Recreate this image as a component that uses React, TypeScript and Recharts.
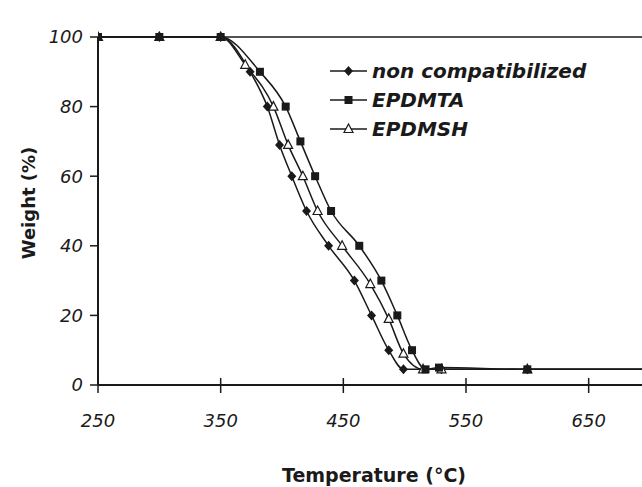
import { LineChart, Line, XAxis, YAxis, ReferenceLine, Legend, Label } from "recharts";

// TGA curves
const ncTemp   = [250, 300, 350, 374, 388, 398, 408, 420, 438, 459, 473, 487, 499, 530, 600, 700];
const ncWeight = [100, 100, 100, 90, 80, 69, 60, 50, 40, 30, 20, 10, 4.5, 4.5, 4.5, 4.5];

const taTemp   = [250, 300, 350, 382, 403, 415, 427, 440, 463, 481, 494, 506, 517, 528, 600, 700];
const taWeight = [100, 100, 100, 90, 80, 70, 60, 50, 40, 30, 20, 10, 4.5, 5, 4.5, 4.5];

const shTemp   = [250, 300, 350, 370, 393, 405, 417, 429, 449, 472, 487, 499, 515, 530, 600, 700];
const shWeight = [100, 100, 100, 92, 80, 69, 60, 50, 40, 29, 19, 9, 4.5, 4.5, 4.5, 4.5];

const xTicks = [250, 350, 450, 550, 650];
const yTicks = [0, 20, 40, 60, 80, 100];

const seriesNames = ["non compatibilized", "EPDMTA", "EPDMSH"];

const toRows = (t: number[], w: number[]) => t.map((temp, i) => ({ temp, weight: w[i] }));

const INK = "#1a1a1a";
const FONT = "'DejaVu Sans', sans-serif";

type Shape = "diamond" | "square" | "triangle";

function Marker({ cx, cy, shape }: { cx: number; cy: number; shape: Shape }) {
  if (shape === "diamond")
    return <polygon points={`${cx},${cy - 5} ${cx + 4.5},${cy} ${cx},${cy + 5} ${cx - 4.5},${cy}`} fill={INK} />;
  if (shape === "square")
    return <rect x={cx - 4} y={cy - 4} width={8} height={8} fill={INK} />;
  return (
    <polygon points={`${cx},${cy - 5} ${cx + 4.5},${cy + 3.5} ${cx - 4.5},${cy + 3.5}`}
      fill="#fff" stroke={INK} strokeWidth={1.2} />
  );
}

const dotFor = (shape: Shape) => (p: any) =>
  <Marker key={`${shape}-${p.index}`} cx={p.cx} cy={p.cy} shape={shape} />;

function XTick({ x, y, payload }: any) {
  const axisY = y - 8;
  return (
    <g>
      <line x1={x} x2={x} y1={axisY - 7} y2={axisY + 8} stroke={INK} strokeWidth={1.5} />
      <text x={x} y={axisY + 42} textAnchor="middle" fontFamily={FONT} fontStyle="italic"
        fontSize={18} fill={INK}>{payload.value}</text>
    </g>
  );
}

const legendShapes: Shape[] = ["diamond", "square", "triangle"];

function LegendBox() {
  return (
    <div style={{ fontFamily: FONT }}>
      {seriesNames.map((name, i) => (
        <div key={name} style={{ display: "flex", alignItems: "center", height: 29 }}>
          <svg width={42} height={20}>
            <line x1={0} x2={37} y1={10} y2={10} stroke={INK} strokeWidth={1.5} />
            <Marker cx={18.5} cy={10} shape={legendShapes[i]} />
          </svg>
          <span style={{ fontSize: 20, fontWeight: "bold", fontStyle: "italic", color: INK }}>{name}</span>
        </div>
      ))}
    </div>
  );
}

export default function App() {
  return (
    <div style={{ position: "absolute", left: 0, top: 0, width: 642, height: 487, overflow: "hidden", background: "#fff" }}>
      <LineChart width={652} height={487} margin={{ top: 37, right: 2, bottom: 42, left: 0 }}>
        <XAxis type="number" dataKey="temp" domain={[250, 700]} ticks={xTicks} allowDataOverflow
          height={60} tickSize={8} tickMargin={0} tickLine={false} tick={<XTick />}
          axisLine={{ stroke: INK, strokeWidth: 2 }}
          label={<Label content={(p: any) => {
            const vb = p.viewBox || { x: 98, y: 385, width: 552, height: 60 };
            return (
              <text x={vb.x + vb.width / 2} y={482} textAnchor="middle" fontFamily={FONT}
                fontWeight="bold" fontSize={19} fill={INK}>Temperature (°C)</text>
            );
          }} />} />
        <YAxis type="number" domain={[0, 100]} ticks={yTicks} width={98} tickSize={8} tickMargin={7}
          axisLine={{ stroke: INK, strokeWidth: 2 }} tickLine={{ stroke: INK, strokeWidth: 1.5 }}
          tick={{ fontFamily: FONT, fontStyle: "italic", fontSize: 18, fill: INK }}
          label={<Label content={(p: any) => {
            const vb = p.viewBox || { x: 0, y: 37, width: 98, height: 348 };
            const cy = vb.y + vb.height / 2 - 8;
            return (
              <text x={28} y={cy} transform={`rotate(-90 28 ${cy})`} textAnchor="middle" dominantBaseline="central"
                fontFamily={FONT} fontWeight="bold" fontSize={18} fill={INK}>Weight (%)</text>
            );
          }} />} />
        <ReferenceLine y={100} stroke={INK} strokeWidth={1.5} />
        <Line data={toRows(ncTemp, ncWeight)} dataKey="weight" name={seriesNames[0]} type="monotone"
          stroke={INK} strokeWidth={1.5} dot={dotFor("diamond")} isAnimationActive={false} />
        <Line data={toRows(shTemp, shWeight)} dataKey="weight" name={seriesNames[2]} type="monotone"
          stroke={INK} strokeWidth={1.5} dot={dotFor("triangle")} isAnimationActive={false} />
        <Line data={toRows(taTemp, taWeight)} dataKey="weight" name={seriesNames[1]} type="monotone"
          stroke={INK} strokeWidth={1.5} dot={dotFor("square")} isAnimationActive={false} />
        <Legend content={<LegendBox />} layout="horizontal" verticalAlign="middle" align="center"
          wrapperStyle={{ top: 56, left: 330, width: 310, bottom: "auto", right: "auto" }} />
      </LineChart>
    </div>
  );
}
